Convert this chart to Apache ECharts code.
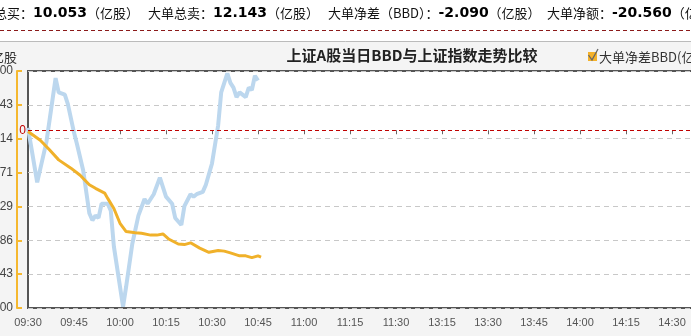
<!DOCTYPE html>
<html><head><meta charset="utf-8">
<script src="https://cdn.jsdelivr.net/npm/echarts@6/dist/echarts.min.js"></script>
<style>html,body{margin:0;padding:0;background:#fff}#c{width:691px;height:336px}</style>
</head><body><div id="c"></div>
<script>
// X axis tick labels (trading minutes, every 15 min; lunch break collapsed)
const timeLabels = ['09:30','09:45','10:00','10:15','10:30','10:45','11:00','11:15','11:30','13:15','13:30','13:45','14:00','14:15','14:30','14:45','15:00'];
// Left axis (BBD, 亿股) tick labels
const bbdTickLabels = ['-3.00','-2.43','-1.86','-1.29','-0.71','-0.14','0.43','1.00'];
const bbdMin = -3, bbdMax = 1;
// BBD series (orange): trading minute since 09:30, value in 亿股
const bbdMinutes = [0,4,7,10,14,17,20,22,25,26,28,30,32,35,37,40,42,44,46,49,51,53,56,59,62,64,66,69,71,73,75,76];
const bbdValues  = [-0.02,-0.17,-0.33,-0.50,-0.64,-0.76,-0.92,-0.98,-1.06,-1.15,-1.32,-1.57,-1.71,-1.73,-1.74,-1.77,-1.77,-1.75,-1.84,-1.92,-1.93,-1.90,-1.99,-2.06,-2.03,-2.04,-2.07,-2.12,-2.12,-2.15,-2.12,-2.14];
// 上证指数 series (light blue): relative position within its own (hidden) range, 0–100
const indexMinutes = [0,3,6,9,10,12,13,15,16,18,20,21,22,23,24,26,27,28,31,32,34,36,38,39,41,43,45,47,48,50,51,53,54,55,57,58,60,62,63,65,66,67,68,69,71,72,73,74,75];
const indexValues  = [76,53,70,97,91,90,86,74,69,58,40,37,39,38,44,44,41,26,0.5,9,27,39,46,44,48,55,47,44,38,35,43,48,47,48,49,52,61,77,91,99,95,93,89,91,89,93,92,98,96];
// Header summary
const summaryItems = [
  ['大单总买：','10.053','（亿股）'],
  ['大单总卖：','12.143','（亿股）'],
  ['大单净差（BBD）：','-2.090','（亿股）'],
  ['大单净额：','-20.560','（亿元）']
];
const summaryX = [-32, 148, 328, 547];
const titleText = '上证A股当日BBD与上证指数走势比较';
const legendText = '大单净差BBD(亿股)';
const unitText = '亿股';

const chart = echarts.init(document.getElementById('c'));
const bbdData = bbdMinutes.map((m,i)=>[m,bbdValues[i]]);
const idxData = indexMinutes.map((m,i)=>[m,indexValues[i]]);
const cjk = '"Noto Sans CJK SC", sans-serif';

const graphics = [
  {type:'rect', z:-10, shape:{x:0,y:0,width:691,height:41}, style:{fill:'#fff'}},
  {type:'line', shape:{x1:0,y1:30.5,x2:691,y2:30.5}, style:{stroke:'#8b1a1a',lineWidth:1,lineDash:[4,3]}},
  {type:'line', shape:{x1:0,y1:41.5,x2:691,y2:41.5}, style:{stroke:'#bbbbbb',lineWidth:1}},
  {type:'text', x:412, y:55, style:{text:titleText, font:'bold 15px '+cjk, fill:'#222', align:'center', verticalAlign:'middle'}},
  {type:'text', x:17, y:57, style:{text:unitText, font:'13px '+cjk, fill:'#333', align:'right', verticalAlign:'middle'}},
  {type:'rect', shape:{x:588,y:52,width:9,height:9}, style:{fill:'#f5b22a'}},
  {type:'polyline', shape:{points:[[588.5,55],[592,60],[598,49]]}, style:{stroke:'#666',lineWidth:1.3,fill:null}},
  {type:'text', x:599, y:57, style:{text:legendText, font:'13px '+cjk, fill:'#333', align:'left', verticalAlign:'middle'}}
];
summaryItems.forEach((it,i)=>{
  graphics.push({type:'text', x:summaryX[i], y:13, style:{
    text:'{l|'+it[0]+'}{n|'+it[1]+'}{l|'+it[2]+'}',
    verticalAlign:'middle',
    rich:{
      l:{fontFamily:cjk, fontSize:13, fill:'#111', color:'#111'},
      n:{fontFamily:'"DejaVu Sans", sans-serif', fontWeight:'bold', fontSize:14, fill:'#000', color:'#000'}
    }
  }});
});

chart.setOption({
  animation:false,
  backgroundColor:'#f4f4f4',
  graphic: graphics,
  grid:{left:28, top:71, width:736, height:237, outerBoundsMode:'none', containLabel:false,
        show:true, backgroundColor:'#fff', borderColor:'#555', borderWidth:2},
  xAxis:{
    type:'value', min:0, max:240, interval:15,
    axisLine:{show:false},
    axisTick:{show:true, length:4, lineStyle:{color:'#666'}},
    splitLine:{show:false},
    axisLabel:{color:'#555', fontSize:11, fontFamily:'"Liberation Sans", Arial, sans-serif', margin:9,
      formatter:(v)=>timeLabels[Math.round(v/15)] || ''}
  },
  yAxis:[{
    type:'value', min:bbdMin, max:bbdMax, interval:(bbdMax-bbdMin)/7,
    position:'left', offset:11,
    axisLine:{show:true, onZero:false, lineStyle:{color:'#f5b830', width:2}},
    axisTick:{show:true, inside:true, length:5, lineStyle:{color:'#f5b830', width:2}},
    axisLabel:{color:'#444', fontSize:12, fontFamily:'"Liberation Sans", Arial, sans-serif', margin:4,
      formatter:(v)=>bbdTickLabels[Math.round((v-bbdMin)/((bbdMax-bbdMin)/7))] || ''},
    splitLine:{show:true, lineStyle:{color:'#c8c8c8', type:[5,4], width:1}}
  },{
    type:'value', min:0, max:100, show:false, splitLine:{show:false}
  }],
  series:[{
    type:'line', yAxisIndex:1, data:idxData, showSymbol:false, symbol:'none',
    lineStyle:{color:'#bcd7ee', width:4}, z:2
  },{
    type:'line', yAxisIndex:0, data:bbdData, showSymbol:false, symbol:'none',
    lineStyle:{color:'#f0b12a', width:3}, z:3,
    markLine:{silent:true, symbol:'none', data:[{yAxis:0}],
      lineStyle:{color:'#c00000', type:[4,3], width:1},
      label:{show:true, position:'start', formatter:'0', color:'#c00000', fontSize:12, distance:2}}
  }]
});
</script>
</body></html>
